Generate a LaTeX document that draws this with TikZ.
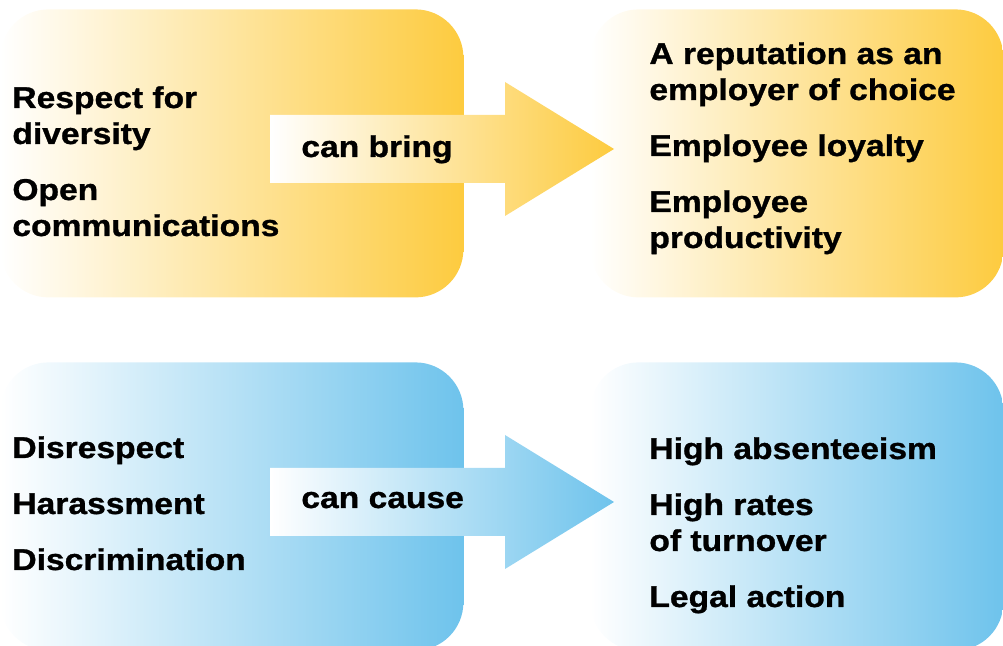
\documentclass[tikz,border=0pt]{standalone}
\usepackage{fontspec}
\setmainfont{Liberation Sans}[BoldFeatures={FakeStretch=1.12,FakeBold=1}]
\definecolor{jaune}{RGB}{253,203,63}
\definecolor{bleu}{RGB}{110,195,236}

\begin{document}
\begin{tikzpicture}[x=0.5pt,y=-0.5pt,
    panneau/.style={rounded corners=24pt, inner sep=0pt, minimum height=144pt, anchor=north west},
    degrade/.style={left color=white, middle color=#1!22, right color=#1},
    texte/.style={anchor=base west, align=left, inner sep=0pt, font=\fontsize{15}{18}\selectfont\bfseries}]
    % cadre de l'image
    \useasboundingbox (0,0) rectangle (1003,646);
    \clip (0,0) rectangle (1003,646);

    % les quatre panneaux en degrade
    \node[panneau, degrade=jaune, minimum width=231.5pt] (boiteA) at (0,9) {};
    \node[panneau, degrade=jaune, minimum width=206.5pt] (boiteB) at (590,9) {};
    \node[panneau, degrade=bleu, minimum width=231.5pt] (boiteC) at (0,362) {};
    \node[panneau, degrade=bleu, minimum width=206.5pt] (boiteD) at (590,362) {};

    % les deux fleches
    \path[left color=white, right color=jaune] (270,115) -- (505,115) -- (505,82) -- (614,149)
        -- (505,216) -- (505,183) -- (270,183) -- cycle;
    \path[left color=white, right color=bleu] (270,468) -- (505,468) -- (505,435) -- (614,502)
        -- (505,569) -- (505,536) -- (270,536) -- cycle;

    % textes du haut (ancre sur la derniere ligne)
    \node[texte] (atouts) at (12,236) {Respect for\\diversity\\[10pt]Open\\communications};
    \node[texte] (lien1) at (301,157) {can bring};
    \node[texte] (gains) at (649,248) {A reputation as an\\employer of choice\\[10pt]Employee loyalty\\[10pt]Employee\\productivity};

    % textes du bas
    \node[texte] (maux) at (12,570) {Disrespect\\[10pt]Harassment\\[10pt]Discrimination};
    \node[texte] (lien2) at (301,508) {can cause};
    \node[texte] (couts) at (649,607) {High absenteeism\\[10pt]High rates\\of turnover\\[10pt]Legal action};
\end{tikzpicture}
\end{document}
